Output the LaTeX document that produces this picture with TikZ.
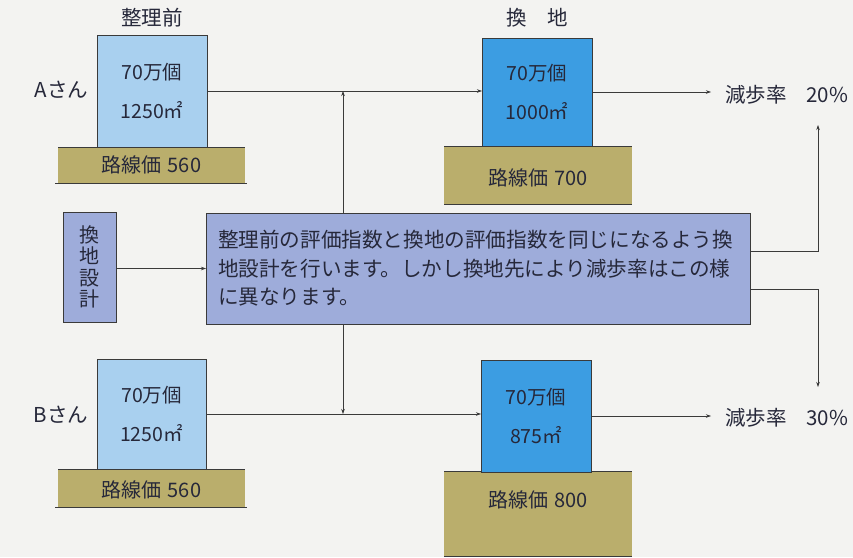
\documentclass[tikz,border=0pt]{standalone}
\usepackage{fontspec}
\setmainfont{Noto Sans CJK JP}
\usetikzlibrary{arrows.meta,calc}
\definecolor{bg}{HTML}{F3F3F1}
\definecolor{lblue}{HTML}{A9D0EF}
\definecolor{dblue}{HTML}{3C9DE2}
\definecolor{tan}{HTML}{BAAE6C}
\definecolor{lav}{HTML}{9EACDA}
\definecolor{ink}{HTML}{26283A}
\definecolor{lineC}{HTML}{3A3A3A}
\begin{document}
\begin{tikzpicture}[x=1pt,y=-1pt,
  every node/.style={inner sep=0pt, outer sep=0pt, text=ink},
  lotbox/.style={draw=lineC, line width=0.6pt, anchor=north west, align=center,
    font=\fontsize{19.5}{39}\selectfont},
  bandbox/.style={fill=tan, anchor=north west},
  bandline/.style={draw=lineC, line width=0.9pt},
  bandtext/.style={font=\fontsize{20}{24}\selectfont},
  lbl/.style={font=\fontsize{20.5}{24}\selectfont},
  conn/.style={draw=lineC, line width=0.6pt},
  arr/.style={conn, -{Stealth[length=5pt,width=3.5pt]}}]
\fill[bg] (0,0) rectangle (853,557);
\useasboundingbox (0,0) rectangle (853,557);

% titles
\node[lbl] (t1) at (152,18) {整理前};
\node[lbl] (t2) at (537,18) {換　地};

% A before
\node[bandbox, minimum width=187pt, minimum height=36pt] (bandA) at (58,147) {};
\draw[bandline] (bandA.north west) -- (bandA.north east);
\draw[bandline] ($(bandA.south west)+(-3,0)$) -- ($(bandA.south east)+(2,0)$);
\node[bandtext] (bandAt) at (151.5,165) {路線価\hspace{6pt}560};
\node[lotbox, fill=lblue, minimum width=110pt, minimum height=112pt] (boxA) at (97,35) {70万個\\1250㎡};
\node[lbl, anchor=east] (labA) at (88,90) {Aさん};

% A after
\node[bandbox, minimum width=188pt, minimum height=58pt] (bandA2) at (444,146) {};
\draw[bandline] (bandA2.north west) -- (bandA2.north east);
\draw[bandline] (bandA2.south west) -- (bandA2.south east);
\node[bandtext] (bandA2t) at (538,178) {路線価\hspace{6pt}700};
\node[lotbox, fill=dblue, minimum width=110pt, minimum height=108pt] (boxA2) at (482,38) {70万個\\1000㎡};

% rates
\node[lbl, anchor=west] (rateA) at (725,95) {減歩率\hspace{20pt}20\%};
\node[lbl, anchor=west] (rateB) at (725,418) {減歩率\hspace{20pt}30\%};

% design box
\node[draw=lineC, line width=0.6pt, fill=lav, anchor=north west, minimum width=53pt, minimum height=110pt,
  align=center, font=\fontsize{20}{21.5}\selectfont] (design) at (63,212) {換\\地\\設\\計};

% note
\node[draw=lineC, line width=1pt, fill=lav, anchor=north west, minimum width=544pt, minimum height=111pt,
  text width=520pt, align=left, font=\fontsize{20.6}{28.5}\selectfont] (note) at (206,213)
  {整理前の評価指数と換地の評価指数を同じになるよう換\\地設計を行います。しかし換地先により減歩率はこの様\\に異なります。};

% B before
\node[bandbox, minimum width=187pt, minimum height=38pt] (bandB) at (58,469) {};
\draw[bandline] (bandB.north west) -- (bandB.north east);
\draw[bandline] ($(bandB.south west)+(-3,0)$) -- ($(bandB.south east)+(2,0)$);
\node[bandtext] (bandBt) at (151.5,490) {路線価\hspace{6pt}560};
\node[lotbox, fill=lblue, minimum width=109pt, minimum height=110pt] (boxB) at (97,359) {70万個\\1250㎡};
\node[lbl, anchor=east] (labB) at (88,415) {Bさん};

% B after
\node[bandbox, minimum width=188pt, minimum height=85pt] (bandB2) at (444,471) {};
\draw[bandline] (bandB2.north west) -- (bandB2.north east);
\draw[bandline] (bandB2.south west) -- (bandB2.south east);
\node[bandtext] (bandB2t) at (538,500) {路線価\hspace{6pt}800};
\node[lotbox, fill=dblue, minimum width=110pt, minimum height=112pt] (boxB2) at (481,360) {70万個\\875㎡};

% connectors
\coordinate (vx) at (343,0);
\coordinate (rx) at (818,0);
\coordinate (tipA) at (818,125);
\coordinate (tipB) at (818,387);
\draw[arr] (boxA.east) -- (boxA.east -| boxA2.west);
\draw[arr] (boxB.east) -- (boxB.east -| boxB2.west);
\draw[arr, shorten >=14pt] (boxA2.east) -- (boxA2.east -| rateA.west);
\draw[arr, shorten >=14pt] (boxB2.east) -- (boxB2.east -| rateB.west);
\draw[arr] (design.east |- note.west) -- (note.west);
\draw[arr] (note.north -| vx) -- (boxA.east -| vx);
\draw[arr] (note.south -| vx) -- (boxB.east -| vx);
\draw[arr] ($(note.east)+(0,-17.5)$) -| (tipA);
\draw[arr] ($(note.east)+(0,20.5)$) -| (tipB);
\end{tikzpicture}
\end{document}
